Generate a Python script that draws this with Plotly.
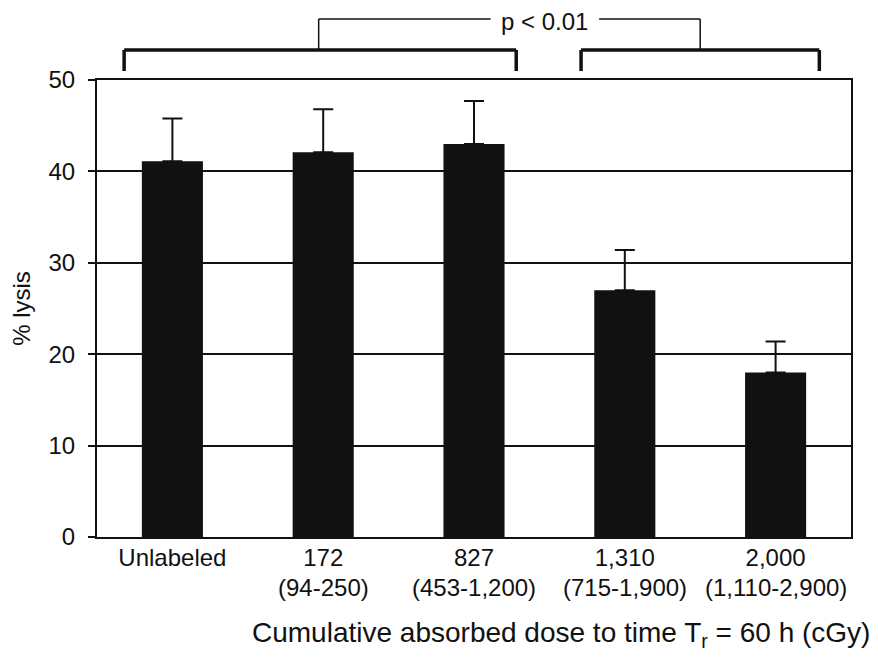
import plotly.graph_objects as go

doses = ["Unlabeled", "172", "827", "1,310", "2,000"]
dose_ranges = ["", "(94-250)", "(453-1,200)", "(715-1,900)", "(1,110-2,900)"]
lysis = [41.1, 42.1, 43.0, 27.0, 18.0]
err_plus = [4.7, 4.7, 4.7, 4.4, 3.4]
y_ticks = [0, 10, 20, 30, 40, 50]

FONT = "Liberation Sans, Arial, Helvetica, sans-serif"
INK = "#111111"
xpos = list(range(len(doses)))

fig = go.Figure()
fig.add_trace(go.Bar(
    x=xpos, y=lysis,
    marker=dict(color=INK, line=dict(width=0)),
    error_y=dict(type="data", symmetric=False, array=err_plus,
                 arrayminus=[0] * len(lysis), color=INK,
                 thickness=2, width=10),
    width=0.405,
))

fig.update_layout(
    width=878, height=657,
    margin=dict(l=89, r=35, t=72, b=128, autoexpand=False),
    plot_bgcolor="white", paper_bgcolor="white",
    showlegend=False,
    font=dict(family=FONT, size=24, color=INK),
    xaxis=dict(
        tickmode="array", tickvals=xpos, ticktext=doses,
        range=[-0.5, 4.5], showline=True, linecolor=INK, linewidth=2,
        mirror=True, ticks="", showgrid=False, automargin=False,
        ticklabelstandoff=-2,
        tickfont=dict(size=24, family=FONT, color=INK),
    ),
    yaxis=dict(
        range=[0, 50], tickvals=y_ticks, showline=True, linecolor=INK,
        linewidth=2, mirror=True, ticks="outside", ticklen=7, tickwidth=2,
        tickcolor=INK, showgrid=True, gridcolor=INK, gridwidth=2,
        zeroline=False, automargin=False, ticklabelstandoff=8,
        tickfont=dict(size=24, family=FONT, color=INK),
        title=dict(text="% lysis", font=dict(size=24, family=FONT, color=INK), standoff=14),
    ),
)

def py(pix):
    return (537 - pix) / 457.0

# second line of the category labels (dose ranges)
for xi, rng in zip(xpos, dose_ranges):
    if rng:
        fig.add_annotation(x=xi, xref="x", y=py(587), yref="paper", text=rng,
                           showarrow=False, yanchor="middle",
                           font=dict(size=24, family=FONT, color=INK))

# x-axis title
fig.add_annotation(x=(561 - 8 - 89) / (878 - 89 - 35), xref="paper", y=py(634), yref="paper",
                   text="Cumulative absorbed dose to time T<sub>r</sub> = 60 h (cGy)",
                   showarrow=False, yanchor="middle",
                   font=dict(size=28, family=FONT, color=INK))

# significance brackets (x in category units, y in paper units)
thick = dict(color=INK, width=3.5)
thin = dict(color=INK, width=1.5)
y_br = py(50)
y_end = py(71)
y_top = py(19)
for x0, x1 in [(-0.32, 2.28), (2.71, 4.29)]:
    fig.add_shape(type="line", xref="x", yref="paper", x0=x0, x1=x1, y0=y_br, y1=y_br, line=thick)
    fig.add_shape(type="line", xref="x", yref="paper", x0=x0, x1=x0, y0=y_br, y1=y_end, line=thick)
    fig.add_shape(type="line", xref="x", yref="paper", x0=x1, x1=x1, y0=y_br, y1=y_end, line=thick)
xl, xr = 0.97, 3.50
fig.add_shape(type="line", xref="x", yref="paper", x0=xl, x1=xl, y0=y_br, y1=y_top, line=thin)
fig.add_shape(type="line", xref="x", yref="paper", x0=xr, x1=xr, y0=y_br, y1=y_top, line=thin)
fig.add_shape(type="line", xref="x", yref="paper", x0=xl, x1=2.11, y0=y_top, y1=y_top, line=thin)
fig.add_shape(type="line", xref="x", yref="paper", x0=2.83, x1=xr, y0=y_top, y1=y_top, line=thin)
fig.add_annotation(x=2.47, xref="x", y=py(22), yref="paper", text="p < 0.01",
                   showarrow=False, font=dict(size=24, family=FONT, color=INK), yanchor="middle")

fig.write_html("out.html")
